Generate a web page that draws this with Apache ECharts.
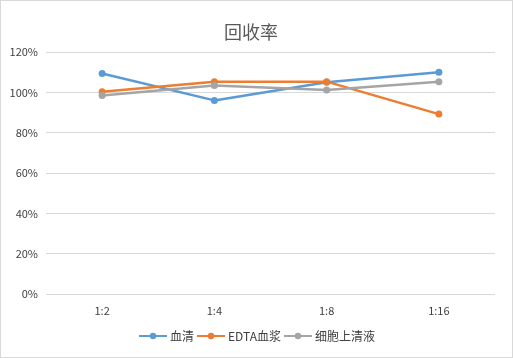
<!DOCTYPE html>
<html><head><meta charset="utf-8">
<script src="https://cdn.jsdelivr.net/npm/echarts@6/dist/echarts.min.js"></script>
<style>html,body{margin:0;padding:0;background:#fff}#c{width:511px;height:356px;border:1px solid #d9d9d9}</style>
</head><body><div id="c"></div>
<script>
const categories = ['1:2','1:4','1:8','1:16'];
const serum = [109.3, 96.0, 105.0, 110.0];
const edta = [100.3, 105.3, 105.3, 89.2];
const supernatant = [98.4, 103.4, 101.2, 105.2];
const seriesNames = ['血清','EDTA血浆','细胞上清液'];
const colors = ['#5B9BD5','#ED7D31','#A5A5A5'];
const font = '"Microsoft YaHei","Noto Sans CJK SC","DejaVu Sans",sans-serif';
const chart = echarts.init(document.getElementById('c'));
const mk = (name, data, i) => ({
  name, type:'line', data, symbol:'circle', symbolSize:7,
  lineStyle:{width:2.5,color:colors[i]}, itemStyle:{color:colors[i]}
});
chart.setOption({
  animation:false,
  title:{text:'回收率',left:218,top:17,textStyle:{fontSize:18,fontWeight:'normal',color:'#595959',fontFamily:font}},
  legend:{bottom:10,left:'center',itemWidth:28,itemHeight:8,itemGap:2,textStyle:{fontSize:12,color:'#404040',fontFamily:font,padding:[0,0,0,-2]}},
  grid:{left:45,right:17,top:51,bottom:63},
  xAxis:{type:'category',data:categories,axisLine:{show:false},axisTick:{show:false},
    axisLabel:{color:'#404040',fontSize:11,margin:11,fontFamily:font}},
  yAxis:{type:'value',min:0,max:120,interval:20,
    axisLabel:{formatter:'{value}%',color:'#404040',fontSize:11,margin:8,fontFamily:font},
    splitLine:{lineStyle:{color:'#d9d9d9'}}},
  series:[mk(seriesNames[0],serum,0),mk(seriesNames[1],edta,1),mk(seriesNames[2],supernatant,2)]
});
</script></body></html>
